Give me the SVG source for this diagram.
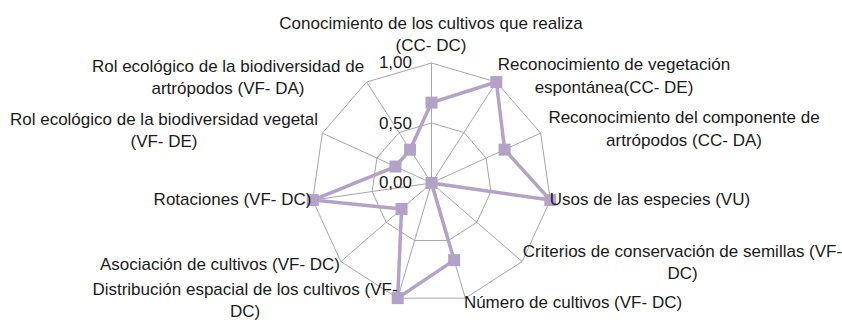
<svg xmlns="http://www.w3.org/2000/svg" width="842" height="320" viewBox="0 0 842 320">
<style>
text{font-family:"Liberation Sans",Arial,sans-serif;font-size:17px;fill:#1a1a1a}
.c{text-anchor:middle}
.e{text-anchor:end}
.grid{fill:none;stroke:#a6a6a6;stroke-width:1}
.series{fill:none;stroke:#b3a2c7;stroke-width:3.5;stroke-linejoin:round}
.mk{fill:#b3a2c7}
</style>
<rect width="842" height="320" fill="#ffffff"/>
<g id="grid">
<polygon class="grid" points="431.5,63 496.37,82.04 540.65,133.15 550.28,200.08 522.18,261.59 465.3,298.14 397.7,298.14 340.82,261.59 312.72,200.08 322.35,133.15 366.63,82.04"/>
<polygon class="grid" points="431.5,123 463.94,132.52 486.08,158.08 490.89,191.54 476.84,222.29 448.4,240.57 414.6,240.57 386.16,222.29 372.11,191.54 376.92,158.08 399.06,132.52"/>
<path class="grid" d="M431.5,183L431.5,63M431.5,183L496.37,82.04M431.5,183L540.65,133.15M431.5,183L550.28,200.08M431.5,183L522.18,261.59M431.5,183L465.3,298.14M431.5,183L397.7,298.14M431.5,183L340.82,261.59M431.5,183L312.72,200.08M431.5,183L322.35,133.15M431.5,183L366.63,82.04"/>
</g>
<g id="axis-values">
<text class="e" x="412" y="68">1,00</text>
<text class="e" x="412" y="129">0,50</text>
<text class="e" x="412" y="188">0,00</text>
</g>
<g id="series">
<polygon class="series" points="431.5,102.6 496.37,82.04 504.63,149.6 550.28,200.08 431.5,183 454.15,260.14 397.7,298.14 401.57,208.93 312.72,200.08 395.48,166.55 410.09,149.68"/>
<g class="mk">
<rect x="425.5" y="96.6" width="12" height="12"/>
<rect x="490.37" y="76.04" width="12" height="12"/>
<rect x="498.63" y="143.6" width="12" height="12"/>
<rect x="544.28" y="194.08" width="12" height="12"/>
<rect x="425.5" y="177" width="12" height="12"/>
<rect x="448.15" y="254.14" width="12" height="12"/>
<rect x="391.7" y="292.14" width="12" height="12"/>
<rect x="395.57" y="202.93" width="12" height="12"/>
<rect x="306.72" y="194.08" width="12" height="12"/>
<rect x="389.48" y="160.55" width="12" height="12"/>
<rect x="404.09" y="143.68" width="12" height="12"/>
</g>
</g>
<g id="label-conocimiento"><text class="c" x="431" y="29">Conocimiento de los cultivos que realiza</text><text class="c" x="431" y="51">(CC- DC)</text></g>
<g id="label-rec-vegetacion"><text class="c" x="614" y="70">Reconocimiento de vegetación</text><text class="c" x="614" y="93">espontánea(CC- DE)</text></g>
<g id="label-rec-artropodos"><text class="c" x="684" y="123">Reconocimiento del componente de</text><text class="c" x="684" y="146">artrópodos (CC- DA)</text></g>
<g id="label-usos"><text class="c" x="650" y="205">Usos de las especies (VU)</text></g>
<g id="label-criterios"><text class="c" x="682.5" y="257">Criterios de conservación de semillas (VF-</text><text class="c" x="682.5" y="279">DC)</text></g>
<g id="label-numero"><text class="c" x="573" y="308">Número de cultivos (VF- DC)</text></g>
<g id="label-distribucion"><text class="c" x="245" y="295">Distribución espacial de los cultivos (VF-</text><text class="c" x="245" y="317">DC)</text></g>
<g id="label-asociacion"><text class="c" x="220" y="270">Asociación de cultivos (VF- DC)</text></g>
<g id="label-rotaciones"><text class="c" x="232.5" y="205">Rotaciones (VF- DC)</text></g>
<g id="label-rol-vegetal"><text class="c" x="164" y="125">Rol ecológico de la biodiversidad vegetal</text><text class="c" x="164" y="147">(VF- DE)</text></g>
<g id="label-rol-artropodos"><text class="c" x="228" y="72">Rol ecológico de la biodiversidad de</text><text class="c" x="228" y="94">artrópodos (VF- DA)</text></g>
</svg>
